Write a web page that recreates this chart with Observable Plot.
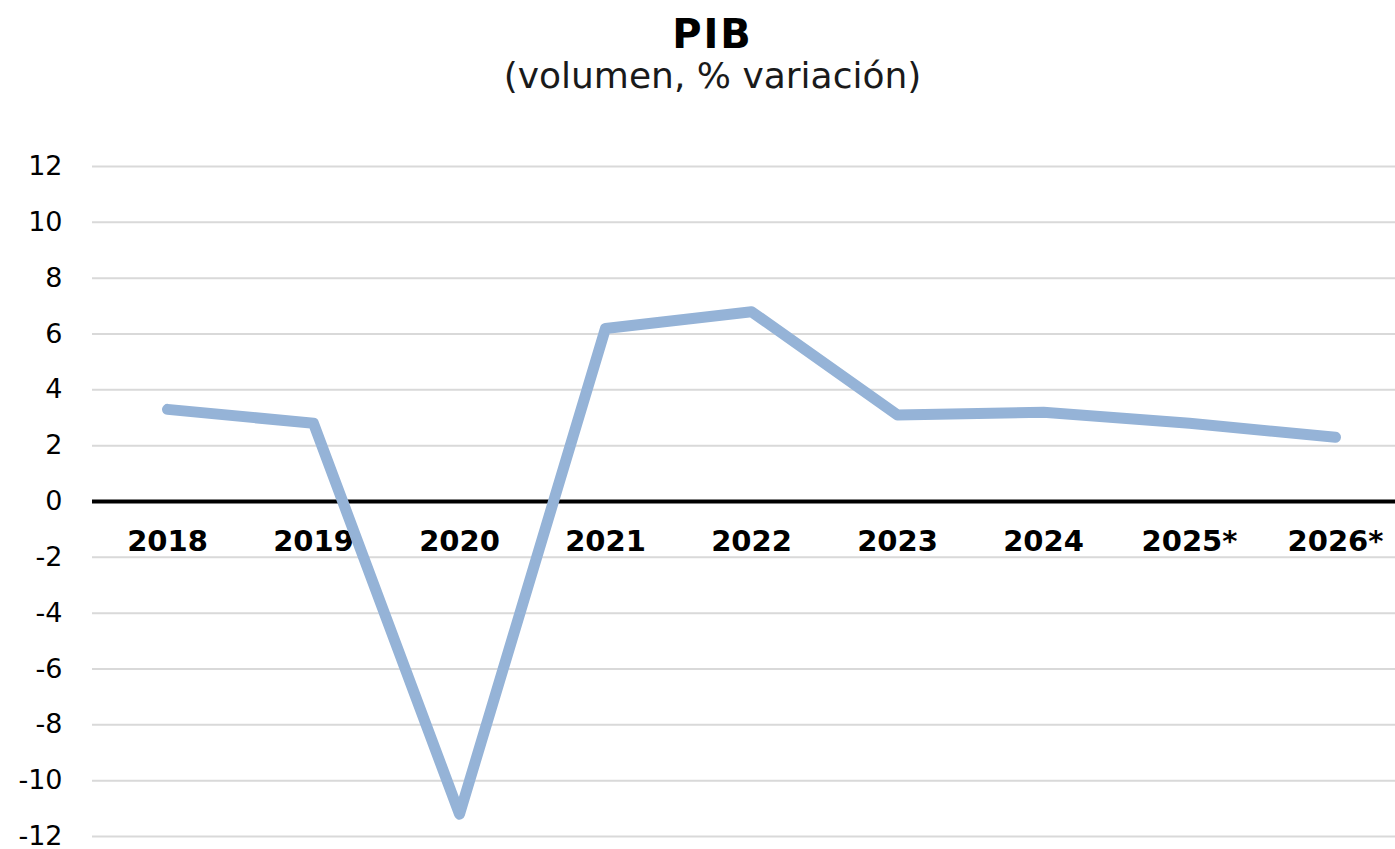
<!DOCTYPE html>
<html><head><meta charset="utf-8">
<script src="https://cdn.jsdelivr.net/npm/d3@7"></script>
<script src="https://cdn.jsdelivr.net/npm/@observablehq/plot@0.6"></script>
<style>
body{margin:0;background:#fff;font-family:"DejaVu Sans",Verdana,sans-serif;width:1395px;height:849px;overflow:hidden;position:relative}
#t{position:absolute;left:15px;width:1395px;top:14px;text-align:center;font-weight:bold;font-size:40px;line-height:40px;letter-spacing:2px;color:#000}
#s{position:absolute;left:15px;width:1395px;top:58px;text-align:center;font-size:36px;line-height:36px;color:#1a1a1a}
#c{position:absolute;left:0;top:120px}
svg{overflow:visible}
</style></head><body>
<div id="t">PIB</div>
<div id="s">(volumen, % variación)</div>
<div id="c"></div>
<script>
const years = ["2018","2019","2020","2021","2022","2023","2024","2025*","2026*"];
const growth = [3.3, 2.8, -11.2, 6.2, 6.8, 3.1, 3.2, 2.8, 2.3];
const yTicks = [12,10,8,6,4,2,0,-2,-4,-6,-8,-10,-12];
const data = years.map((y,i)=>({year:y, value:growth[i]}));
const chart = Plot.plot({
  width:1395, height:729,
  marginTop:46, marginBottom:13, marginLeft:92, marginRight:0,
  style:{fontFamily:'"DejaVu Sans",Verdana,sans-serif', background:"#fff", overflow:"visible"},
  x:{type:"point", domain:years, range:[165,1336], padding:0, axis:null},
  y:{domain:[-12,12], ticks:yTicks, tickSize:0, tickPadding:30, label:null, tickFormat:d=>String(d)},
  marks:[
    Plot.ruleY(yTicks.filter(d=>d!==0), {stroke:"#d9d9d9", strokeWidth:2, strokeOpacity:1}),
    Plot.axisY({ticks:yTicks, tickSize:0, tickPadding:30, fontSize:27, fill:"#000", label:null, tickFormat:d=>String(d)}),
    Plot.ruleY([0], {stroke:"#000", strokeWidth:4}),
    Plot.text(years, {x:d=>d, y:0, dy:40, text:d=>d, fontWeight:"bold", fontSize:29, fill:"#000"}),
    Plot.line(data, {x:"year", y:"value", stroke:"#95b3d7", strokeWidth:11, strokeLinecap:"round", strokeLinejoin:"round"})
  ]
});
document.getElementById("c").appendChild(chart);
</script>
</body></html>
